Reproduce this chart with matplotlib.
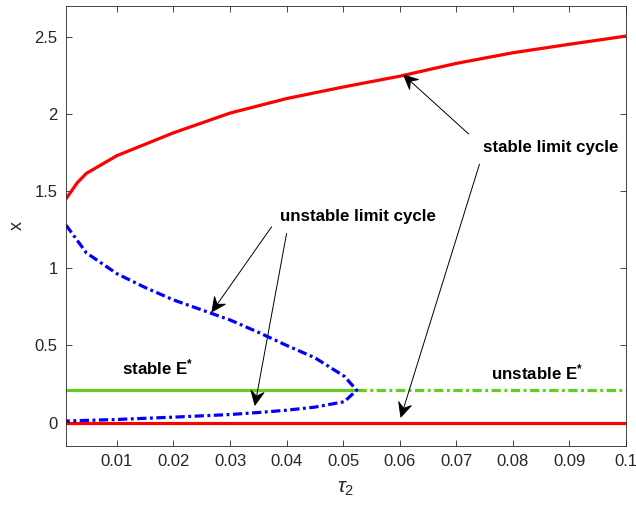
import matplotlib
matplotlib.use("Agg")
import numpy as np
import matplotlib.pyplot as plt
from matplotlib.patches import ArrowStyle
from matplotlib.path import Path

plt.rcParams['font.family'] = ['Liberation Sans', 'DejaVu Sans']
plt.rcParams['mathtext.fontset'] = 'custom'
plt.rcParams['mathtext.rm'] = 'Liberation Sans'
plt.rcParams['mathtext.it'] = 'Liberation Sans:italic'
plt.rcParams['mathtext.bf'] = 'Liberation Sans:bold'

# Stable limit cycle amplitude (upper branch)
tau_stable_lc = [0.001, 0.003, 0.0046, 0.01, 0.02, 0.03, 0.04, 0.05, 0.06, 0.07, 0.08, 0.09, 0.1]
x_stable_lc = [1.45, 1.555, 1.615, 1.73, 1.878, 2.006, 2.10, 2.175, 2.245, 2.328, 2.397, 2.452, 2.505]

# Stable limit cycle lower envelope
tau_stable_low = [0.001, 0.1]
x_stable_low = [0.0, 0.0]

# Unstable limit cycle: upper branch out to the fold, then lower branch back
tau_unstable_up = [0.001, 0.0046, 0.01, 0.015, 0.02, 0.025, 0.03, 0.035, 0.04, 0.045, 0.0502, 0.0524]
x_unstable_up = [1.28, 1.10, 0.965, 0.875, 0.795, 0.73, 0.665, 0.585, 0.50, 0.42, 0.30, 0.21]
tau_unstable_low = [0.0524, 0.0502, 0.045, 0.04, 0.035, 0.03, 0.02, 0.01, 0.001]
x_unstable_low = [0.21, 0.135, 0.10, 0.08, 0.065, 0.052, 0.035, 0.02, 0.01]

# Equilibrium E*
E_star = 0.21
tau_hopf = 0.0524
tau_range = [0.001, 0.1]

xticks = [0.01, 0.02, 0.03, 0.04, 0.05, 0.06, 0.07, 0.08, 0.09, 0.1]
xticklabels = ['0.01', '0.02', '0.03', '0.04', '0.05', '0.06', '0.07', '0.08', '0.09', '0.1']
yticks = [0, 0.5, 1, 1.5, 2, 2.5]
yticklabels = ['0', '0.5', '1', '1.5', '2', '2.5']


class VBack(ArrowStyle._Base):
    """Thin shaft with a filled arrowhead whose back edge is notched."""

    def __init__(self, head_length=0.95, head_width=0.45, back=0.35):
        self.head_length = head_length
        self.head_width = head_width
        self.back = back
        super().__init__()

    def transmute(self, path, mutation_size, linewidth):
        (x0, y0), (x1, y1) = path.vertices[0], path.vertices[-1]
        d = np.hypot(x1 - x0, y1 - y0)
        ux, uy = (x1 - x0) / d, (y1 - y0) / d
        px, py = -uy, ux
        L = self.head_length * mutation_size
        W = self.head_width * mutation_size
        bx, by = x1 - ux * L, y1 - uy * L
        nx, ny = x1 - ux * L * (1 - self.back), y1 - uy * L * (1 - self.back)
        shaft = Path([(x0, y0), (nx, ny)])
        head = Path([(x1, y1), (bx + px * W, by + py * W), (nx, ny),
                     (bx - px * W, by - py * W), (x1, y1)], closed=True)
        return [shaft, head], [False, True]


fig = plt.figure(figsize=(6.36, 5.09), dpi=100)
ax = fig.add_axes([66 / 636, 63 / 509, 560 / 636, 440 / 509])

red = '#ff0000'
blue = '#0000ff'
green = '#66cc1f'
lw = 2.3
dashdot = (2.9, 1.1, 0.9, 1.1)

ax.plot([tau_range[0], tau_hopf], [E_star, E_star], color=green, lw=lw, solid_capstyle='butt')
ax.plot([tau_hopf, tau_range[1]], [E_star, E_star], color=green, lw=lw, dashes=dashdot)

ax.plot(tau_stable_lc, x_stable_lc, color=red, lw=lw)
ax.plot(tau_stable_low, x_stable_low, color=red, lw=lw)

ax.plot(tau_unstable_up + tau_unstable_low[1:], x_unstable_up + x_unstable_low[1:],
        color=blue, lw=lw, dashes=dashdot)

ax.set_xlim(0.001, 0.1)
ax.set_ylim(-0.152, 2.70)
ax.set_xticks(xticks)
ax.set_xticklabels(xticklabels)
ax.set_yticks(yticks)
ax.set_yticklabels(yticklabels)

axis_col = '#262626'
for s in ax.spines.values():
    s.set_color(axis_col)
    s.set_linewidth(0.6)
ax.tick_params(direction='in', length=4.5, width=0.6, color=axis_col,
               labelcolor=axis_col, labelsize=12, top=True, right=True, pad=6)

ax.set_xlabel(r'$\tau_2$', fontsize=15, color=axis_col, labelpad=7)
ax.set_ylabel('x', fontsize=13, color=axis_col, labelpad=6)

arrow = dict(arrowstyle=VBack(), color='k', lw=0.7,
             shrinkA=0, shrinkB=0, mutation_scale=10.5)
fs = 12.2

ax.text(0.0866, 1.781, 'stable limit cycle', fontsize=fs, fontweight='bold',
        ha='center', va='center')
ax.annotate('', xy=(0.0607, 2.252), xytext=(0.0722, 1.870), arrowprops=arrow)
ax.annotate('', xy=(0.0602, 0.036), xytext=(0.0741, 1.675), arrowprops=arrow)

ax.text(0.0526, 1.334, 'unstable limit cycle', fontsize=fs, fontweight='bold',
        ha='center', va='center')
ax.annotate('', xy=(0.0268, 0.718), xytext=(0.03735, 1.269), arrowprops=arrow)
ax.annotate('', xy=(0.0344, 0.113), xytext=(0.0400, 1.226), arrowprops=arrow)

ax.text(0.0109, 0.358, r'$\mathbf{stable\ E^{*}}$', fontsize=fs, ha='left', va='center')
ax.text(0.0762, 0.325, r'$\mathbf{unstable\ E^{*}}$', fontsize=fs, ha='left', va='center')

fig.savefig('out.png', dpi=100)
